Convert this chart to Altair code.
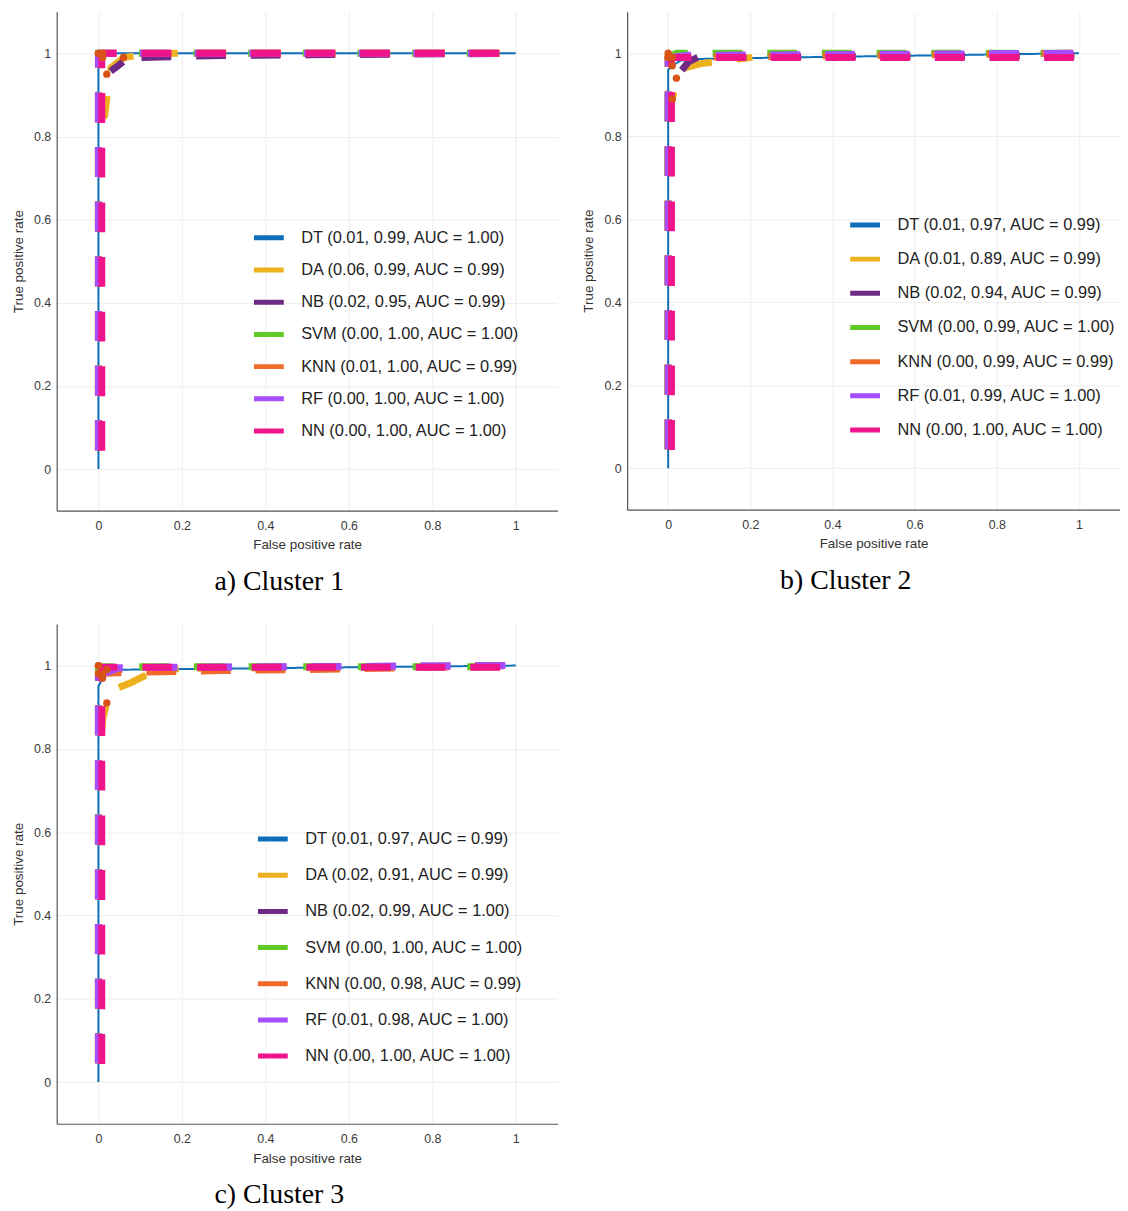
import altair as alt
import pandas as pd

MODELS = ["DT", "DA", "NB", "SVM", "KNN", "RF", "NN"]
COLORS = ["#0E6FB8", "#EDB120", "#6E2A84", "#5FCB24", "#F26A2A", "#A64DFF", "#F0148C"]
TICKS = [0, 0.2, 0.4, 0.6, 0.8, 1]

# ---------------- Cluster 1 ----------------
C1_OPT_FPR = [0.01, 0.06, 0.02, 0.00, 0.01, 0.00, 0.00]
C1_OPT_TPR = [0.99, 0.99, 0.95, 1.00, 1.00, 1.00, 1.00]
C1_AUC = [1.00, 0.99, 0.99, 1.00, 0.99, 1.00, 1.00]
C1_FPR = {
    "DT": [0, 0, 0.005, 0.01, 0.03, 1],
    "DA": [0, 0, 0.015, 0.02, 0.03, 0.06, 0.12, 0.19, 1],
    "NB": [0, 0, 0.01, 0.02, 0.04, 0.059, 0.1, 0.3, 1],
    "SVM": [0, 0, 1],
    "KNN": [0, 0, 0.01, 1],
    "RF": [0, 0, 0.005, 1],
    "NN": [0, 0.008, 0.008, 1],
}
C1_TPR = {
    "DT": [0, 0.97, 0.985, 0.99, 1.0, 1.0],
    "DA": [0, 0.84, 0.85, 0.89, 0.965, 0.99, 0.998, 1.0, 1.0],
    "NB": [0, 0.9, 0.93, 0.95, 0.965, 0.98, 0.99, 0.995, 1.0],
    "SVM": [0, 1.0, 1.0],
    "KNN": [0, 0.99, 1.0, 1.0],
    "RF": [0, 0.995, 1.0, 1.0],
    "NN": [0, 0.02, 1.0, 1.0],
}
# index of the point where the dash pattern restarts
C1_BREAK = {"DA": 7, "NB": 5}

# ---------------- Cluster 2 ----------------
C2_OPT_FPR = [0.01, 0.01, 0.02, 0.00, 0.00, 0.01, 0.00]
C2_OPT_TPR = [0.97, 0.89, 0.94, 0.99, 0.99, 0.99, 1.00]
C2_AUC = [0.99, 0.99, 0.99, 1.00, 0.99, 1.00, 1.00]
C2_FPR = {
    "DT": [0, 0, 0.01, 0.03, 0.06, 0.3, 1],
    "DA": [0, 0, 0.01, 0.02, 0.04, 0.08, 0.12, 0.205, 1],
    "NB": [0, 0, 0.01, 0.02, 0.03, 0.05, 0.072, 1],
    "SVM": [0, 0, 0.02, 1],
    "KNN": [0, 0, 0.01, 1],
    "RF": [0, 0, 0.01, 0.05, 1],
    "NN": [0, 0.008, 0.008, 0.03, 1, 1],
}
C2_TPR = {
    "DT": [0, 0.96, 0.97, 0.982, 0.986, 0.99, 1.0],
    "DA": [0, 0.84, 0.89, 0.93, 0.965, 0.975, 0.98, 0.99, 0.995],
    "NB": [0, 0.9, 0.92, 0.94, 0.955, 0.98, 0.99, 0.995],
    "SVM": [0, 0.99, 1.0, 1.0],
    "KNN": [0, 0.99, 0.99, 1.0],
    "RF": [0, 0.98, 0.99, 0.995, 1.0],
    "NN": [0, 0.02, 0.99, 0.99, 0.99, 1.0],
}
C2_BREAK = {"DA": 7, "NB": 6}

# ---------------- Cluster 3 ----------------
C3_OPT_FPR = [0.01, 0.02, 0.02, 0.00, 0.00, 0.01, 0.00]
C3_OPT_TPR = [0.97, 0.91, 0.99, 1.00, 0.98, 0.98, 1.00]
C3_AUC = [0.99, 0.99, 1.00, 1.00, 0.99, 1.00, 1.00]
C3_FPR = {
    "DT": [0, 0, 0.01, 0.02, 0.05, 1],
    "DA": [0, 0, 0.005, 0.01, 0.02, 0.03, 0.08, 0.12, 0.192, 1],
    "NB": [0, 0, 0.02, 0.2, 1],
    "SVM": [0, 0, 1],
    "KNN": [0, 0, 0.05, 0.3, 0.6, 1],
    "RF": [0, 0, 0.01, 0.05, 1],
    "NN": [0, 0.008, 0.008, 1, 1],
}
C3_TPR = {
    "DT": [0, 0.95, 0.97, 0.985, 0.99, 1.0],
    "DA": [0, 0.76, 0.8, 0.87, 0.91, 0.94, 0.96, 0.98, 0.993, 0.997],
    "NB": [0, 0.97, 0.99, 0.995, 1.0],
    "SVM": [0, 0.997, 0.997],
    "KNN": [0, 0.98, 0.983, 0.988, 0.992, 1.0],
    "RF": [0, 0.97, 0.98, 0.995, 1.0],
    "NN": [0, 0.02, 0.996, 0.996, 1.0],
}
C3_BREAK = {"DA": 8}

FONT = "Liberation Sans"


def panel(fpr, tpr, breaks, opt_fpr, opt_tpr, auc, caption, w, h, lx, ly, rowpad):
    labels = [f"{m} ({f:.2f}, {t:.2f}, AUC = {a:.2f})"
              for m, f, t, a in zip(MODELS, opt_fpr, opt_tpr, auc)]
    rows = []
    for m, lab in zip(MODELS, labels):
        b = breaks.get(m)
        pts = list(zip(fpr[m], tpr[m]))
        seg0 = pts if b is None else pts[: b + 1]
        for i, (x, y) in enumerate(seg0):
            rows.append({"model": m, "label": lab, "seg": 0, "idx": i, "fpr": x, "tpr": y})
        if b is not None:
            for i, (x, y) in enumerate(pts[b:]):
                rows.append({"model": m, "label": lab, "seg": 1, "idx": i, "fpr": x, "tpr": y})
    df = pd.DataFrame(rows)
    opt = pd.DataFrame({"model": MODELS, "fpr": opt_fpr, "tpr": opt_tpr})

    xs = alt.Scale(domain=[-0.1, 1.1], nice=False, zero=False)
    ys = alt.Scale(domain=[-0.1, 1.1], nice=False, zero=False)
    xaxis = alt.Axis(values=TICKS, format="~g", title="False positive rate",
                     labelPadding=9, titlePadding=6)
    yaxis = alt.Axis(values=TICKS, format="~g", title="True positive rate",
                     labelPadding=6, titlePadding=8)

    lines = alt.Chart(df).mark_line(
        strokeCap="butt", strokeDashOffset=36, clip=True
    ).encode(
        x=alt.X("fpr:Q", scale=xs, axis=xaxis),
        y=alt.Y("tpr:Q", scale=ys, axis=yaxis),
        color=alt.Color(
            "label:N", sort=labels,
            scale=alt.Scale(domain=labels, range=COLORS),
            legend=alt.Legend(
                orient="none", legendX=lx, legendY=ly, title=None,
                symbolType="stroke", symbolSize=900, symbolStrokeWidth=5,
                symbolDash=[1, 0], symbolOpacity=1,
                labelFontSize=16.5, labelFont=FONT, labelColor="#222222",
                labelLimit=400, rowPadding=rowpad, labelOffset=15, padding=0,
            ),
        ),
        detail=alt.Detail("seg:N"),
        strokeDash=alt.condition(alt.datum.model == "DT", alt.value([1, 0]), alt.value([30, 25])),
        strokeWidth=alt.condition(alt.datum.model == "DT", alt.value(2), alt.value(7)),
        order=alt.Order("idx:Q"),
    )
    dots = alt.Chart(opt).mark_point(
        filled=True, size=55, color="#D95319", opacity=1
    ).encode(x=alt.X("fpr:Q", scale=xs), y=alt.Y("tpr:Q", scale=ys))

    return alt.layer(lines, dots).properties(
        width=w, height=h,
        title=alt.TitleParams(caption, orient="bottom", anchor="middle", frame="group",
                              font="Liberation Serif", fontSize=28, fontWeight="normal",
                              color="black", offset=17, dx=-28),
    )


pa = panel(C1_FPR, C1_TPR, C1_BREAK, C1_OPT_FPR, C1_OPT_TPR, C1_AUC, "a) Cluster 1", 504, 502, 196, 210, 4.4)
pb = panel(C2_FPR, C2_TPR, C2_BREAK, C2_OPT_FPR, C2_OPT_TPR, C2_AUC, "b) Cluster 2", 496, 501, 222, 197, 6.4)
pc = panel(C3_FPR, C3_TPR, C3_BREAK, C3_OPT_FPR, C3_OPT_TPR, C3_AUC, "c) Cluster 3", 504, 503, 200, 199, 8.4)

chart = alt.concat(
    pa, pb, pc, columns=2, spacing={"row": 114, "column": 70}, bounds="flush"
).resolve_scale(color="independent").resolve_legend(color="independent").properties(
    padding={"left": 3, "top": 0, "right": 0, "bottom": 0}
).configure_view(stroke=None).configure_axis(
    labelFont=FONT, titleFont=FONT, labelFontSize=12.5, titleFontSize=13.5,
    labelColor="#3a3a3a", titleColor="#333333", titleFontWeight="normal",
    domainColor="#555555", domainWidth=1.2, ticks=False,
    gridColor="#eeeeee", gridWidth=1,
)

chart.save("out.html", embed_options={"renderer": "svg", "actions": False})
